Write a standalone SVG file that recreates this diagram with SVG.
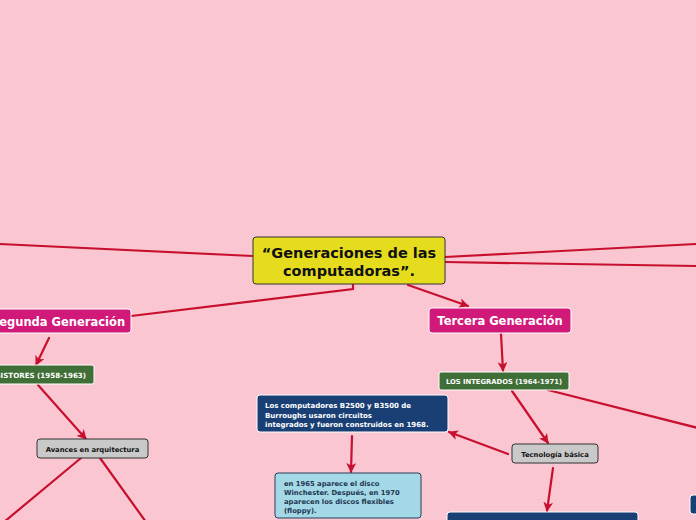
<svg xmlns="http://www.w3.org/2000/svg" width="696" height="520" viewBox="0 0 696 520">
<defs>
<marker id="ah" viewBox="0 0 10 10" refX="9" refY="5" markerWidth="4.5" markerHeight="4.5" orient="auto" markerUnits="strokeWidth">
<path d="M0,0 L10,5 L0,10 L2.5,5 Z" fill="#c8102e"/>
</marker>
<style>
.c{fill:none;stroke:#c8102e;stroke-width:2.2;stroke-linecap:round}
.a{marker-end:url(#ah)}
text{font-family:"DejaVu Sans","Verdana",sans-serif;font-weight:bold}
.gen rect{fill:#d1197a;stroke:#fff;stroke-width:1}
.gen text{fill:#fff;font-size:11.5px;text-anchor:middle}
.grn rect{fill:#3f6e36;stroke:#fff;stroke-width:1}
.grn text{fill:#fff;font-size:6.8px;text-anchor:middle}
.gry rect{fill:#c9c9c9;stroke:#333;stroke-width:1}
.gry text{fill:#111;font-size:6.8px;text-anchor:middle}
.blu rect{fill:#1a3f75;stroke:#fff;stroke-width:1}
.blu text{fill:#fff;font-size:7px}
.lbl rect{fill:#a3d8e6;stroke:#2b3f55;stroke-width:1}
.lbl text{fill:#1e3550;font-size:6.8px}
</style>
</defs>
<rect width="696" height="520" fill="#f9c6d1"/>
<g id="connectors">
<line class="c" x1="0" y1="244" x2="253" y2="256"/>
<line class="c" x1="445" y1="257" x2="696" y2="244"/>
<line class="c" x1="445" y1="262" x2="696" y2="266"/>
<polyline class="c" points="353,284 353,289 131,316"/>
<line class="c a" x1="408" y1="285" x2="468" y2="306"/>
<line class="c a" x1="49" y1="338" x2="36" y2="365"/>
<line class="c a" x1="38" y1="385" x2="86" y2="439"/>
<line class="c" x1="81" y1="458" x2="4" y2="522"/>
<line class="c" x1="100" y1="458" x2="146" y2="522"/>
<line class="c a" x1="501" y1="334" x2="503" y2="371"/>
<line class="c" x1="548" y1="390" x2="698" y2="428"/>
<line class="c a" x1="512" y1="391" x2="548" y2="443"/>
<line class="c a" x1="508" y1="454" x2="449" y2="432"/>
<line class="c a" x1="352" y1="436" x2="351" y2="472"/>
<line class="c a" x1="553" y1="468" x2="547" y2="511"/>
</g>
<g id="central">
<rect x="253" y="237" width="192" height="47" rx="3" fill="#e6dc1e" stroke="#333" stroke-width="1"/>
<text x="349" y="258" font-size="14.5" text-anchor="middle" fill="#111">“Generaciones de las</text>
<text x="349" y="276" font-size="14.5" text-anchor="middle" fill="#111">computadoras”.</text>
</g>
<g id="segunda" class="gen">
<rect x="-12" y="309" width="143" height="24" rx="3"/>
<text x="58" y="326">Segunda Generación</text>
</g>
<g id="tercera" class="gen">
<rect x="429" y="308" width="142" height="25" rx="3"/>
<text x="500" y="325">Tercera Generación</text>
</g>
<g id="transistores" class="grn">
<rect x="-40" y="365" width="134" height="19" rx="2"/>
<text x="86" y="377.5" style="text-anchor:end;font-size:7.1px">TRANSISTORES (1958-1963)</text>
</g>
<g id="integrados" class="grn">
<rect x="439" y="372" width="130" height="18" rx="2"/>
<text x="504" y="384">LOS INTEGRADOS (1964-1971)</text>
</g>
<g id="avances" class="gry">
<rect x="37" y="439" width="111" height="19" rx="3"/>
<text x="92.5" y="451.5">Avances en arquitectura</text>
</g>
<g id="tecnologia" class="gry">
<rect x="512" y="444" width="86" height="19" rx="3"/>
<text x="555" y="457">Tecnología básica</text>
</g>
<g id="burroughs" class="blu">
<rect x="257" y="395" width="191" height="37" rx="3"/>
<text x="265" y="408">Los computadores B2500 y B3500 de</text>
<text x="265" y="417.5">Burroughs usaron circuitos</text>
<text x="265" y="427">integrados y fueron construidos en 1968.</text>
</g>
<g id="winchester" class="lbl">
<rect x="275" y="473" width="146" height="45" rx="3"/>
<text x="284" y="486">en 1965 aparece el disco</text>
<text x="284" y="495">Winchester. Después, en 1970</text>
<text x="284" y="504">aparecen los discos flexibles</text>
<text x="284" y="513">(floppy).</text>
</g>
<g id="bottom-node" class="blu">
<rect x="447" y="512" width="191" height="20" rx="3"/>
</g>
<g id="right-node" class="blu">
<rect x="690" y="495" width="20" height="19" rx="3"/>
</g>
</svg>
